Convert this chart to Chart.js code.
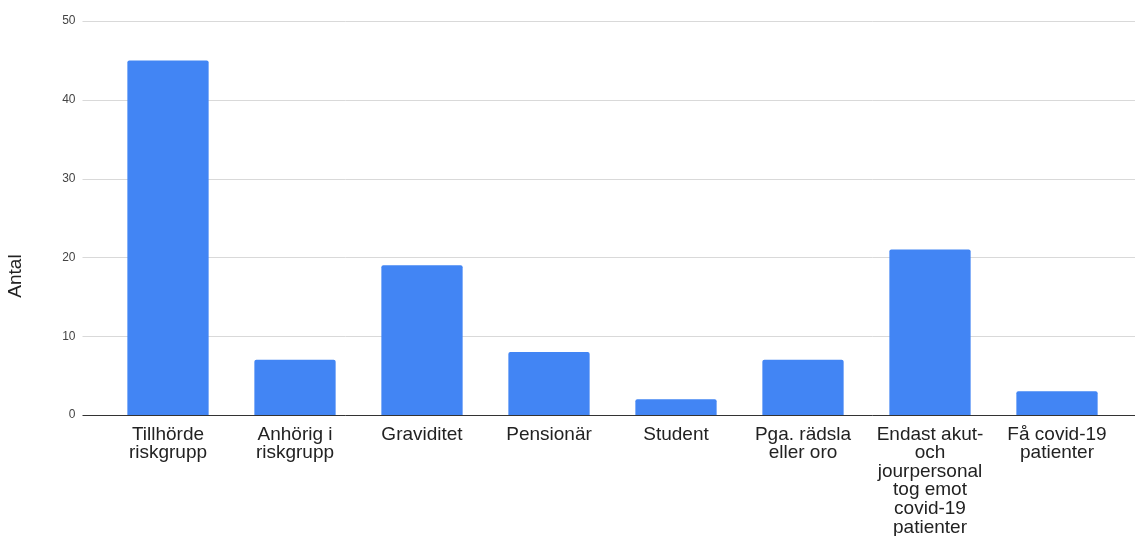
<!DOCTYPE html>
<html lang="sv">
<head>
    <meta charset="UTF-8">
    <title>Antal</title>
    <style>
        body { margin: 0; background: #fff; }
        #wrap { width: 1135px; height: 536px; position: relative; }
    </style>
</head>
<body>
    <div id="wrap"><canvas id="chart"></canvas></div>

    <script src="https://cdn.jsdelivr.net/npm/chart.js"></script>
    <script>
        // category labels, already split into the lines they wrap to
        const categories = [
            ['Tillhörde', 'riskgrupp'],
            ['Anhörig i', 'riskgrupp'],
            ['Graviditet'],
            ['Pensionär'],
            ['Student'],
            ['Pga. rädsla', 'eller oro'],
            ['Endast akut-', 'och', 'jourpersonal', 'tog emot', 'covid-19', 'patienter'],
            ['Få covid-19', 'patienter']
        ];
        const counts = [45, 7, 19, 8, 2, 7, 21, 3];
        const yTicks = [0, 10, 20, 30, 40, 50];
        const yTitle = 'Antal';

        const FONT = "Arial, 'Liberation Sans', sans-serif";

        // gridlines run a bit past the bars on both sides, plus the rotated axis title
        const backdrop = {
            id: 'backdrop',
            beforeDatasetsDraw(chart) {
                const { ctx, chartArea } = chart;
                const y = chart.scales.y;
                const x0 = chartArea.left - 22;
                const x1 = chartArea.right + 15;
                ctx.save();
                yTicks.forEach(v => {
                    if (v === 0) return;
                    const py = Math.round(y.getPixelForValue(v)) + 0.5;
                    ctx.strokeStyle = '#d9d9d9';
                    ctx.lineWidth = 1;
                    ctx.beginPath();
                    ctx.moveTo(x0, py);
                    ctx.lineTo(x1, py);
                    ctx.stroke();
                });
                ctx.restore();
            },
            afterDatasetsDraw(chart) {
                const { ctx, chartArea } = chart;
                const y = chart.scales.y;
                const py = Math.round(y.getPixelForValue(0)) + 0.5;
                ctx.save();
                ctx.strokeStyle = '#333';
                ctx.lineWidth = 1;
                ctx.beginPath();
                ctx.moveTo(chartArea.left - 22, py);
                ctx.lineTo(chartArea.right + 15, py);
                ctx.stroke();

                ctx.translate(16, 276);
                ctx.rotate(-Math.PI / 2);
                ctx.fillStyle = '#222';
                ctx.font = '19px ' + FONT;
                ctx.textAlign = 'center';
                ctx.textBaseline = 'middle';
                ctx.fillText(yTitle, 0, 0);
                ctx.restore();
            }
        };

        new Chart(document.getElementById('chart'), {
            type: 'bar',
            data: {
                labels: categories,
                datasets: [{
                    data: counts,
                    backgroundColor: '#4285f4',
                    borderRadius: { topLeft: 2, topRight: 2 },
                    borderSkipped: 'bottom',
                    categoryPercentage: 1,
                    barPercentage: 0.64
                }]
            },
            options: {
                responsive: true,
                maintainAspectRatio: false,
                animation: false,
                layout: { padding: { top: 21, right: 14.5, left: 0, bottom: 0 } },
                plugins: {
                    legend: { display: false },
                    tooltip: { enabled: false }
                },
                scales: {
                    x: {
                        grid: { display: false, drawTicks: false },
                        border: { display: false },
                        afterFit(scale) {
                            scale.height = 121;
                            scale.paddingLeft = 0;
                            scale.paddingRight = 0;
                        },
                        ticks: {
                            autoSkip: false,
                            maxRotation: 0,
                            padding: 10,
                            color: '#222',
                            font: { family: FONT, size: 19, lineHeight: 0.98 }
                        }
                    },
                    y: {
                        min: 0,
                        max: 50,
                        grid: { display: false, drawTicks: false },
                        border: { display: false },
                        afterFit(scale) {
                            // the wide tick padding would otherwise push the plot down
                            scale.width = 104.5;
                            scale.paddingTop = 0;
                            scale.paddingBottom = 0;
                        },
                        afterBuildTicks(scale) {
                            scale.ticks = yTicks.map(v => ({ value: v }));
                        },
                        ticks: {
                            padding: 29,
                            color: '#444',
                            font: { family: FONT, size: 12 }
                        }
                    }
                }
            },
            plugins: [backdrop]
        });
    </script>
</body>
</html>
